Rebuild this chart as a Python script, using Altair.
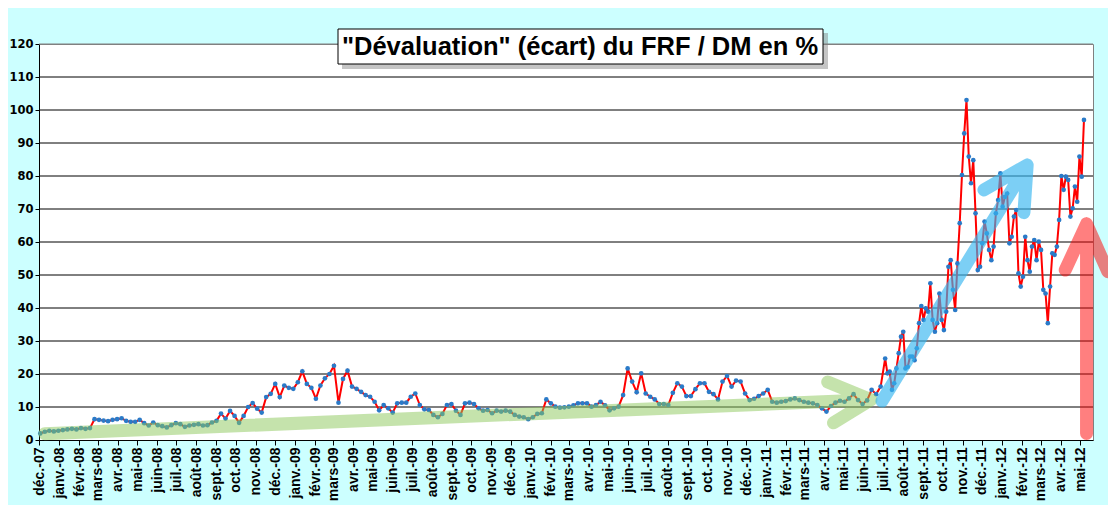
import json
import altair as alt
import pandas as pd

# ---------------- data ----------------
MONTH_ABBR = ["janv.", "févr.", "mars", "avr.", "mai", "juin",
              "juil.", "août", "sept.", "oct.", "nov.", "déc."]
TITLE = '"Dévaluation" (écart) du FRF / DM en %'
Y_TICKS = [0, 10, 20, 30, 40, 50, 60, 70, 80, 90, 100, 110, 120]

# weekly readings (Mondays) from 2007-12-03 to 2011-06-27
WEEKLY_START = "2007-12-03"
WEEKLY_VALUES = [
    2.0, 2.5, 2.8, 2.6, 2.8, 3.0, 3.2, 3.4, 3.2, 3.6, 3.4, 3.6,
    6.3, 6.1, 5.9, 5.7, 6.1, 6.3, 6.6, 5.8, 5.5, 5.5, 6.1, 5.1,
    4.4, 5.3, 4.5, 4.2, 3.8, 4.5, 5.1, 4.8, 4.0, 4.4, 4.6, 4.8,
    4.4, 4.5, 5.3, 5.8, 8.0, 6.5, 8.8, 7.3, 5.2, 7.3,
    10.0, 11.2, 9.5, 8.3, 13.0, 14.0, 17.0, 13.0, 16.5, 15.8, 15.5, 17.5,
    20.8, 17.0, 15.8, 12.5, 16.5, 18.7, 20.0, 22.5, 11.3, 18.5, 21.0, 16.2, 15.5,
    14.6, 13.6, 13.1, 11.6, 9.0, 10.6, 9.6, 8.3, 11.1, 11.3, 11.3, 13.1, 14.1,
    10.6, 9.3, 9.1, 7.6, 6.9, 7.9, 10.6, 10.9, 8.9, 7.6, 11.1, 11.3,
    10.9, 9.6, 8.9, 9.1, 8.1, 8.9, 8.6, 8.9, 8.6, 7.6, 7.1, 6.9, 6.3, 6.9, 7.9, 8.1,
    12.3, 11.1, 10.1, 9.8, 9.9, 10.1, 10.5, 11.1, 11.1, 11.1, 10.1, 10.6,
    11.6, 10.5, 9.0, 9.6, 10.1,
    13.6, 21.7, 17.7, 14.5, 20.2, 14.1, 13.1, 12.3, 10.9, 10.9, 10.6, 14.3,
    17.2, 16.2, 13.3, 13.3, 15.4, 17.2, 17.2, 14.6, 13.9, 12.3, 17.7, 19.4,
    16.2, 18.0, 17.7, 14.1, 12.1, 12.5, 13.3, 14.1, 15.2, 11.6, 11.3, 11.6,
    11.8, 12.3, 12.6, 12.1, 11.6, 11.3, 11.1, 10.6, 9.6, 8.6, 10.3, 11.3,
    11.9, 11.6, 12.6, 13.9, 12.1, 10.9, 12.0, 15.2, 13.9, 16.2,
]

# half-weekly readings from 2011-07-04 to mid-May 2012
HALFWEEK_START = "2011-07-04"
HALFWEEK_VALUES = [
    24.7, 20.2, 20.7, 15.2, 17.2, 21.7, 26.3, 31.3, 32.8, 21.7,
    22.2, 25.3, 25.3, 24.2, 27.8, 35.4, 40.6, 36.4, 39.9, 38.9,
    47.5, 36.4, 32.8, 35.4, 44.4, 36.4, 33.3, 38.9, 52.5, 54.5,
    45.5, 39.4, 53.5, 65.7, 80.3, 92.9, 103.0, 85.9, 77.8, 84.8,
    68.7, 51.5, 52.5, 59.6, 66.2, 62.6, 57.6, 54.5, 58.6, 68.7,
    72.7, 80.8, 70.7, 73.7, 74.7, 59.6, 61.6, 67.7, 69.7, 50.5,
    46.5, 49.5, 61.6, 54.5, 51.0, 58.6, 60.6, 54.5, 60.1, 57.6,
    45.5, 44.4, 35.4, 46.5, 56.6, 56.1, 58.6, 66.7, 80.0, 75.8,
    79.8, 78.8, 67.7, 70.2, 76.8, 72.2, 85.9, 79.8, 97.0,
]

# annotation arrows (shaft start, tip, arm 1, tip, arm 2) in data units
ARROW_NAME = ["vert"] * 5 + ["bleu"] * 5 + ["rouge"] * 5
ARROW_DATE = [
    "2007-12-10", "2011-06-12", "2011-04-06", "2011-06-12", "2011-04-15",
    "2011-06-29", "2012-02-09", "2011-12-04", "2012-02-09", "2012-02-04",
    "2012-05-11", "2012-05-11", "2012-04-08", "2012-05-11", "2012-06-13",
]
ARROW_VALUE = [
    1.9, 12.2, 17.6, 12.2, 5.2,
    11.8, 83.3, 75.8, 83.3, 68.9,
    2.0, 65.5, 51.5, 65.5, 51.0,
]
ARROW_COLORS = {"vert": ("#8CC85A", 0.5), "bleu": ("#35B5F0", 0.65), "rouge": ("#FF0000", 0.5)}

# ---------------- frames ----------------
series = pd.concat([
    pd.DataFrame({"date": pd.date_range(WEEKLY_START, periods=len(WEEKLY_VALUES), freq="7D"),
                  "v": WEEKLY_VALUES}),
    pd.DataFrame({"date": pd.date_range(HALFWEEK_START, periods=len(HALFWEEK_VALUES), freq="84h"),
                  "v": HALFWEEK_VALUES}),
], ignore_index=True)

arrows = pd.DataFrame({"name": ARROW_NAME, "date": pd.to_datetime(ARROW_DATE),
                       "v": ARROW_VALUE, "seq": list(range(len(ARROW_NAME)))})

grid_df = pd.DataFrame({"v": Y_TICKS[1:],
                        "c": ["black"] * (len(Y_TICKS) - 2) + ["#808080"]})

# month ticks déc.-07 .. mai-12
tick_values = []
y, m = 2007, 12
while (y, m) <= (2012, 5):
    tick_values.append(alt.DateTime(year=y, month=m, date=1))
    m += 1
    if m > 12:
        m, y = 1, y + 1

label_expr = (json.dumps(MONTH_ABBR, ensure_ascii=False)
              + "[month(datum.value)] + '-' + timeFormat(datum.value, '%y')")

x_enc = alt.X(
    "date:T",
    scale=alt.Scale(domain=[alt.DateTime(year=2007, month=12, date=1),
                            alt.DateTime(year=2012, month=5, date=21)]),
    axis=alt.Axis(values=tick_values, tickCount=len(tick_values),
                  labelExpr=label_expr, labelAngle=270,
                  labelFont="Liberation Sans", labelFontWeight="bold", labelFontSize=14,
                  labelColor="black", labelOverlap=False, labelBound=False,
                  labelPadding=2, tickSize=5, tickColor="black",
                  domainColor="black", grid=False, title=None),
)
y_axis = alt.Axis(values=Y_TICKS, tickCount=len(Y_TICKS), labelFont="DejaVu Sans",
                  labelFontWeight="bold", labelFontSize=11.5, labelColor="black",
                  labelOverlap=False, labelPadding=2, tickSize=4,
                  tickColor="black", domainColor="black", grid=False, title=None)
y_scale = alt.Scale(domain=[0, 120], nice=False)
y_enc = alt.Y("v:Q", scale=y_scale, axis=y_axis)

grid = alt.Chart(grid_df).mark_rule(strokeWidth=1).encode(
    y=y_enc, color=alt.Color("c:N", scale=None))

base = alt.Chart(series)
line = base.mark_line(color="#FF0000", strokeWidth=2).encode(x=x_enc, y=y_enc)
points = base.mark_circle(size=22, color="#2A7AC8", opacity=1).encode(x="date:T", y="v:Q")

arrow_layers = []
for name, (col, op) in ARROW_COLORS.items():
    arrow_layers.append(
        alt.Chart(arrows[arrows["name"] == name]).mark_line(
            color=col, opacity=op, strokeWidth=13, strokeCap="round", strokeJoin="round"
        ).encode(x="date:T", y="v:Q", order="seq:Q")
    )

title_df = pd.DataFrame({"t": [TITLE]})
shadow = alt.Chart(title_df).mark_rect(fill="#7F7F7F", opacity=0.45).encode(
    x=alt.value(303), x2=alt.value(789), y=alt.value(-11), y2=alt.value(25))
box = alt.Chart(title_df).mark_rect(fill="white", stroke="black", strokeWidth=1).encode(
    x=alt.value(299), x2=alt.value(784), y=alt.value(-15), y2=alt.value(20))
title_text = alt.Chart(title_df).mark_text(
    font="Liberation Sans", fontWeight="bold", fontSize=25.5, color="black",
    align="center", baseline="middle").encode(
    x=alt.value(541), y=alt.value(3), text="t:N")

chart = alt.layer(grid, line, points, *arrow_layers, shadow, box, title_text).properties(
    width=1054, height=396,
    padding={"left": 31, "top": 36, "right": 15, "bottom": 65},
    autosize=alt.AutoSizeParams(type="none"),
).configure(background="#CCFFFF").configure_view(
    fill="white", stroke="#808080", strokeWidth=1)

chart.save("out.html", embed_options={"renderer": "svg", "actions": False})
